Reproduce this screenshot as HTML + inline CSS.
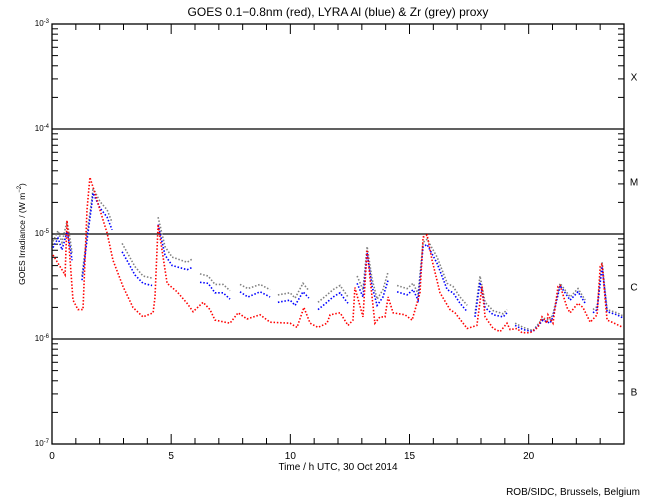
<!DOCTYPE html>
<html><head><meta charset="utf-8"><style>
body{margin:0;background:#fff;}
svg{display:block;font-family:"Liberation Sans",sans-serif;}
</style></head><body>
<svg id="chart" width="650" height="500" viewBox="0 0 650 500" xmlns="http://www.w3.org/2000/svg">
<rect width="650" height="500" fill="#fff"/>
<text x="338" y="16" font-size="12" text-anchor="middle">GOES 0.1−0.8nm (red), LYRA Al (blue) &amp; Zr (grey) proxy</text>
<g id="grid"></g>
<g id="axes"></g>
<g id="series"></g>
<text x="338" y="470" font-size="10" text-anchor="middle">Time / h UTC, 30 Oct 2014</text>
<text transform="translate(25,234) rotate(-90)" font-size="8.5" text-anchor="middle">GOES Irradiance / (W m<tspan font-size="6" dy="-4">−2</tspan><tspan dy="4">)</tspan></text>
<text x="640" y="495" font-size="10" text-anchor="end">ROB/SIDC, Brussels, Belgium</text>
</svg>
<script>
// time (hours) and log10 flux
const redT=[0.04,0.55,0.63,0.76,0.88,1.09,1.30,1.47,1.59,1.80,2.01,2.31,2.56,2.98,3.40,3.82,4.24,4.32,4.45,4.66,4.83,5.25,5.67,5.92,6.34,6.63,6.84,7.47,7.81,8.18,8.73,9.15,9.99,10.28,10.57,10.83,11.16,11.54,11.67,12.09,12.42,12.63,12.71,13.05,13.22,13.34,13.55,13.76,13.97,14.10,14.31,14.81,15.11,15.44,15.57,15.74,15.95,16.28,16.70,16.91,17.42,17.83,18.04,18.17,18.51,18.80,19.09,19.22,19.51,19.72,20.06,20.39,20.56,20.77,20.81,21.02,21.23,21.32,21.61,21.74,22.07,22.28,22.58,22.87,23.00,23.08,23.21,23.29,23.50,23.96];
const redV=[-5.20,-5.39,-4.87,-5.25,-5.63,-5.72,-5.72,-4.77,-4.46,-4.61,-4.77,-4.99,-5.25,-5.50,-5.70,-5.79,-5.75,-5.60,-4.91,-5.22,-5.47,-5.55,-5.66,-5.74,-5.65,-5.72,-5.82,-5.85,-5.75,-5.81,-5.77,-5.84,-5.85,-5.89,-5.70,-5.85,-5.89,-5.85,-5.77,-5.75,-5.87,-5.82,-5.51,-5.79,-5.15,-5.41,-5.85,-5.79,-5.79,-5.60,-5.75,-5.77,-5.82,-5.56,-5.03,-5.01,-5.25,-5.56,-5.72,-5.75,-5.90,-5.87,-5.50,-5.79,-5.90,-5.93,-5.85,-5.91,-5.90,-5.94,-5.94,-5.89,-5.79,-5.85,-5.77,-5.85,-5.50,-5.49,-5.70,-5.75,-5.66,-5.70,-5.84,-5.77,-5.31,-5.28,-5.63,-5.82,-5.84,-5.89];
const lyraT=[0.04,0.25,0.42,0.63,0.76,0.84,1.26,1.47,1.68,1.72,2.01,2.31,2.52,2.94,3.19,3.48,3.82,4.20,4.45,4.74,5.04,5.67,5.87,6.21,6.55,6.84,7.18,7.47,7.89,8.22,8.73,9.15,9.48,9.99,10.20,10.53,10.78,11.16,11.54,11.79,12.09,12.21,12.42,12.80,13.05,13.22,13.43,13.64,13.89,14.10,14.48,14.90,15.15,15.36,15.57,15.74,16.16,16.58,16.83,17.12,17.42,17.75,17.96,18.17,18.51,18.93,19.09,19.43,19.77,20.18,20.60,20.90,21.02,21.32,21.74,22.07,22.37,22.70,22.87,23.08,23.29,23.71,23.96];
// indices of the last point before each data gap
const gapAfter=[5,12,17,22,27,31,36,42,49,60,66,76];
const blueV=[-5.13,-5.04,-5.15,-4.98,-5.12,-5.25,-5.44,-5.06,-4.70,-4.61,-4.75,-4.84,-4.96,-5.17,-5.27,-5.39,-5.47,-5.49,-4.91,-5.20,-5.30,-5.34,-5.32,-5.46,-5.47,-5.56,-5.56,-5.62,-5.55,-5.60,-5.55,-5.60,-5.65,-5.63,-5.68,-5.55,-5.61,-5.72,-5.65,-5.60,-5.56,-5.60,-5.66,-5.47,-5.60,-5.18,-5.50,-5.68,-5.60,-5.44,-5.55,-5.58,-5.53,-5.63,-5.12,-5.10,-5.28,-5.53,-5.56,-5.66,-5.74,-5.79,-5.46,-5.70,-5.77,-5.79,-5.75,-5.87,-5.91,-5.93,-5.82,-5.85,-5.79,-5.49,-5.63,-5.55,-5.66,-5.75,-5.72,-5.31,-5.74,-5.77,-5.80];
const greyV=[-5.07,-4.97,-5.08,-4.88,-5.05,-5.18,-5.40,-5.00,-4.66,-4.56,-4.69,-4.77,-4.89,-5.09,-5.19,-5.31,-5.40,-5.42,-4.84,-5.12,-5.22,-5.27,-5.24,-5.38,-5.40,-5.48,-5.48,-5.54,-5.48,-5.52,-5.48,-5.53,-5.58,-5.56,-5.61,-5.47,-5.54,-5.65,-5.58,-5.53,-5.49,-5.53,-5.60,-5.40,-5.53,-5.12,-5.43,-5.62,-5.53,-5.36,-5.49,-5.52,-5.47,-5.57,-5.08,-5.05,-5.22,-5.47,-5.50,-5.60,-5.68,-5.76,-5.40,-5.65,-5.73,-5.76,-5.72,-5.85,-5.89,-5.92,-5.80,-5.82,-5.76,-5.47,-5.60,-5.52,-5.63,-5.72,-5.69,-5.27,-5.72,-5.75,-5.78];
const yDecades=[-3,-4,-5,-6,-7];
const xTickLabels=[0,5,10,15,20];
const classLabels=["X","M","C","B"];

const X0=52,X1=624,Y0=24,Y1=444;
const xs=t=>X0+(t/24)*(X1-X0);
const ys=l=>Y0+(-3-l)*(Y1-Y0)/4;
const NS="http://www.w3.org/2000/svg";
function mk(tag,attrs,parent){const e=document.createElementNS(NS,tag);for(const k in attrs)e.setAttribute(k,attrs[k]);parent.appendChild(e);return e;}
const axes=document.getElementById('axes'),grid=document.getElementById('grid'),ser=document.getElementById('series');

const frame=mk('rect',{x:X0,y:Y0,width:X1-X0,height:Y1-Y0,fill:'none',stroke:'#000','stroke-width':1.3},axes);



[-4,-5,-6].forEach(d=>{
  const l=mk('line',{x1:X0,x2:X1,y1:ys(d),y2:ys(d),stroke:'#000','stroke-width':1.3},grid);
  
  
});
for(let d=-7;d<-3;d++){
  for(let m=2;m<=9;m++){
    const y=ys(d+Math.log10(m));
    mk('line',{x1:X0,x2:X0+6,y1:y,y2:y,stroke:'#000'},axes);
    mk('line',{x1:X1,x2:X1-6,y1:y,y2:y,stroke:'#000'},axes);
  }
}
yDecades.forEach(d=>{
  const t=mk('text',{x:X0-3,y:ys(d)+2,'font-size':8,'text-anchor':'end'},axes);
  
  
  t.innerHTML='10<tspan font-size="6" dy="-3">'+d+'</tspan>';
});
for(let h=1;h<24;h++){
  const x=xs(h),len=h%5===0?10:6;
  mk('line',{x1:x,x2:x,y1:Y1,y2:Y1-len,stroke:'#000'},axes);
  mk('line',{x1:x,x2:x,y1:Y0,y2:Y0+len,stroke:'#000'},axes);
}
xTickLabels.forEach(h=>{
  const t=mk('text',{x:xs(h),y:Y1+15,'font-size':10,'text-anchor':'middle'},axes);
  
  
  t.textContent=h;
});
classLabels.forEach((c,i)=>{
  const t=mk('text',{x:634,y:ys(-3.5-i)+4,'font-size':10,'text-anchor':'middle'},axes);
  
  
  t.textContent=c;
});

function draw(T,V,color,name,gaps){
  let segs=[[]];
  T.forEach((t,i)=>{segs[segs.length-1].push(xs(t).toFixed(1)+','+ys(V[i]).toFixed(1));if(gaps&&gaps.includes(i))segs.push([]);});
  const g=mk('g',{},ser);
  
  
  segs.forEach(s=>{
    const p=mk('polyline',{points:s.join(' '),fill:'none',stroke:color,'stroke-width':1.6,'stroke-dasharray':'1.5 1.8'},g);
    
    
  });
}
draw(lyraT,greyV,'#808080','zr-grey-series',gapAfter);
draw(lyraT,blueV,'#0000ff','al-blue-series',gapAfter);
draw(redT,redV,'#ff0000','goes-red-series',null);
</script>
</body></html>
